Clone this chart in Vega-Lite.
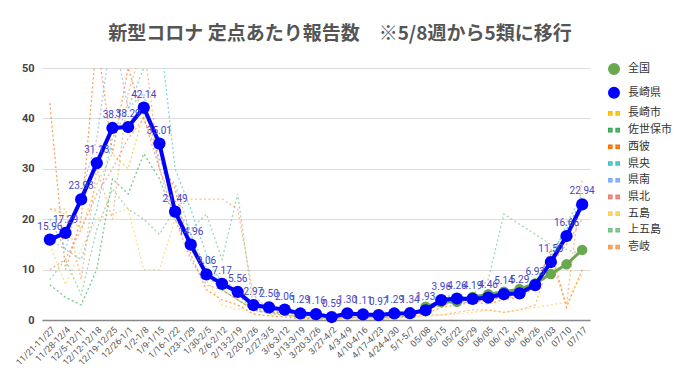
{
  "$schema": "https://vega.github.io/schema/vega-lite/v6.json",
  "width": 548,
  "height": 252,
  "autosize": "none",
  "padding": {"left": 42, "top": 68, "right": 90, "bottom": 62},
  "background": "white",
  "config": {"font": "Noto Sans CJK JP", "view": {"stroke": null}},
  "title": {"text": "新型コロナ 定点あたり報告数　※5/8週から5類に移行", "fontSize": 19, "color": "#555555", "fontWeight": "bold", "offset": 18, "dx": 24, "anchor": "middle"},
  "data": {"values": [
    {"w": "11/21-11/27", "全国": null, "長崎県": 15.96, "lbl": "15.96", "長崎市": 22, "佐世保市": 7, "西彼": 43, "県央": 20, "県南": 16, "県北": 10, "五島": 15, "上五島": 8, "壱岐": 22},
    {"w": "11/28-12/4", "全国": null, "長崎県": 17.29, "lbl": "17.29", "長崎市": 21, "佐世保市": 4.5, "西彼": 10, "県央": 14, "県南": 14, "県北": 12, "五島": 7, "上五島": 12, "壱岐": 22},
    {"w": "12/5-12/11", "全国": null, "長崎県": 23.93, "lbl": "23.93", "長崎市": 18, "佐世保市": 3, "西彼": 20, "県央": 12, "県南": 25, "県北": 18, "五島": 14, "上五島": 5, "壱岐": 8},
    {"w": "12/12-12/18", "全国": null, "長崎県": 31.13, "lbl": "31.13", "長崎市": 27, "佐世保市": 10, "西彼": 56, "県央": 22, "県南": 36, "県北": 25, "五島": 20, "上五島": 18, "壱岐": 30},
    {"w": "12/19-12/25", "全国": null, "長崎県": 38.1, "lbl": "38.1", "長崎市": 33, "佐世保市": 28, "西彼": 33, "県央": 36, "県南": 58, "県北": 30, "五島": 21, "上五島": 26, "壱岐": 20},
    {"w": "12/26-1/1", "全国": null, "長崎県": 38.29, "lbl": "38.29", "長崎市": 30, "佐世保市": 25, "西彼": 50, "県央": 42, "県南": 42, "県北": 36, "五島": 22, "上五島": 22, "壱岐": 45},
    {"w": "1/2-1/8", "全国": null, "長崎県": 42.14, "lbl": "42.14", "長崎市": 41, "佐世保市": 33, "西彼": 40, "県央": 50, "県南": 45, "県北": 40, "五島": 10, "上五島": 20, "壱岐": 55},
    {"w": "1/9-1/15", "全国": null, "長崎県": 35.01, "lbl": "35.01", "長崎市": 34, "佐世保市": 28, "西彼": 32, "県央": 58, "県南": 30, "県北": 30, "五島": 10, "上五島": 17, "壱岐": 30},
    {"w": "1/16-1/22", "全国": null, "長崎県": 21.49, "lbl": "21.49", "長崎市": 22, "佐世保市": 20, "西彼": 26, "県央": 30, "県南": 27, "県北": 20, "五島": 20, "上五島": 22, "壱岐": 22},
    {"w": "1/23-1/29", "全国": null, "長崎県": 14.96, "lbl": "14.96", "長崎市": 14, "佐世保市": 16, "西彼": 13, "県央": 22, "県南": 17, "県北": 12, "五島": 17, "上五島": 18, "壱岐": 24},
    {"w": "1/30-2/5", "全国": null, "長崎県": 9.06, "lbl": "9.06", "長崎市": 9, "佐世保市": 9, "西彼": 6, "県央": 13, "県南": 10, "県北": 7, "五島": 8, "上五島": 21, "壱岐": 24},
    {"w": "2/6-2/12", "全国": null, "長崎県": 7.17, "lbl": "7.17", "長崎市": 6, "佐世保市": 6, "西彼": 4, "県央": 7, "県南": 8, "県北": 6, "五島": 3, "上五島": 12, "壱岐": 24},
    {"w": "2/13-2/19", "全国": null, "長崎県": 5.56, "lbl": "5.56", "長崎市": 4, "佐世保市": 4, "西彼": 3, "県央": 5, "県南": 6, "県北": 4, "五島": 2, "上五島": 25, "壱岐": 22},
    {"w": "2/20-2/26", "全国": null, "長崎県": 2.97, "lbl": "2.97", "長崎市": 2.5, "佐世保市": 2, "西彼": 1.2, "県央": 2, "県南": 3, "県北": 2, "五島": 4, "上五島": 2.5, "壱岐": 5},
    {"w": "2/27-3/5", "全国": null, "長崎県": 2.5, "lbl": "2.50", "長崎市": 2, "佐世保市": 1.3, "西彼": 0.8, "県央": 1.5, "県南": 2, "県北": 1.5, "五島": 1, "上五島": 1.5, "壱岐": 2},
    {"w": "3/6-3/12", "全国": null, "長崎県": 2.06, "lbl": "2.06", "長崎市": 1.6, "佐世保市": 1, "西彼": 0.6, "県央": 1.5, "県南": 2, "県北": 1.5, "五島": 1, "上五島": 1, "壱岐": 1},
    {"w": "3/13-3/19", "全国": null, "長崎県": 1.29, "lbl": "1.29", "長崎市": 1, "佐世保市": 0.8, "西彼": 0.3, "県央": 1, "県南": 1.2, "県北": 1, "五島": 0.5, "上五島": 0.5, "壱岐": 0.5},
    {"w": "3/20-3/26", "全国": null, "長崎県": 1.16, "lbl": "1.16", "長崎市": 0.9, "佐世保市": 0.6, "西彼": 0.3, "県央": 1, "県南": 1.2, "県北": 0.8, "五島": 0.5, "上五島": 0.5, "壱岐": 0},
    {"w": "3/27-4/2", "全国": null, "長崎県": 0.59, "lbl": "0.59", "長崎市": 0.4, "佐世保市": 0.3, "西彼": 0.2, "県央": 0.5, "県南": 0.8, "県北": 0.5, "五島": 0, "上五島": 0.3, "壱岐": 0},
    {"w": "4/3-4/9", "全国": null, "長崎県": 1.3, "lbl": "1.30", "長崎市": 1.1, "佐世保市": 0.6, "西彼": 0.6, "県央": 1, "県南": 1.2, "県北": 1, "五島": 0.5, "上五島": 0.5, "壱岐": 0.5},
    {"w": "4/10-4/16", "全国": null, "長崎県": 1.11, "lbl": "1.11", "長崎市": 0.9, "佐世保市": 0.5, "西彼": 0.5, "県央": 1, "県南": 1, "県北": 1, "五島": 0.5, "上五島": 0.5, "壱岐": 0},
    {"w": "4/17-4/23", "全国": null, "長崎県": 0.97, "lbl": "0.97", "長崎市": 0.8, "佐世保市": 0.5, "西彼": 0.5, "県央": 0.8, "県南": 1, "県北": 0.8, "五島": 0, "上五島": 0.5, "壱岐": 0},
    {"w": "4/24-4/30", "全国": null, "長崎県": 1.29, "lbl": "1.29", "長崎市": 1.1, "佐世保市": 0.7, "西彼": 0.6, "県央": 1, "県南": 1.5, "県北": 1.2, "五島": 0.5, "上五島": 0.5, "壱岐": 0.5},
    {"w": "5/1-5/7", "全国": null, "長崎県": 1.34, "lbl": "1.34", "長崎市": 1.2, "佐世保市": 1, "西彼": 0.8, "県央": 1.2, "県南": 1.5, "県北": 1.2, "五島": 0.5, "上五島": 1, "壱岐": 0.5},
    {"w": "05/08", "全国": 2.63, "長崎県": 1.93, "lbl": "1.93", "長崎市": 1.6, "佐世保市": 2, "西彼": 1.2, "県央": 2.5, "県南": 2, "県北": 2, "五島": 0.8, "上五島": 2, "壱岐": 1},
    {"w": "05/15", "全国": 3.56, "長崎県": 3.96, "lbl": "3.96", "長崎市": 3.5, "佐世保市": 4.5, "西彼": 2.5, "県央": 3.5, "県南": 3.5, "県北": 3, "五島": 1, "上五島": 3, "壱岐": 1},
    {"w": "05/22", "全国": 3.63, "長崎県": 4.26, "lbl": "4.26", "長崎市": 3.8, "佐世保市": 5, "西彼": 3, "県央": 4, "県南": 3.5, "県北": 3.5, "五島": 1.2, "上五島": 4, "壱岐": 1.5},
    {"w": "05/29", "全国": 4.55, "長崎県": 4.19, "lbl": "4.19", "長崎市": 3.9, "佐世保市": 4, "西彼": 3.5, "県央": 4.2, "県南": 3.5, "県北": 3.5, "五島": 1.5, "上五島": 5, "壱岐": 2},
    {"w": "06/05", "全国": 5.11, "長崎県": 4.46, "lbl": "4.46", "長崎市": 4, "佐世保市": 4.8, "西彼": 3.2, "県央": 4.5, "県南": 4, "県北": 4, "五島": 2, "上五島": 8, "壱岐": 2},
    {"w": "06/12", "全国": 5.6, "長崎県": 5.14, "lbl": "5.14", "長崎市": 4.8, "佐世保市": 5.5, "西彼": 4, "県央": 5, "県南": 4.5, "県北": 4.5, "五島": 1.5, "上五島": 21, "壱岐": 1.5},
    {"w": "06/19", "全国": 6.13, "長崎県": 5.29, "lbl": "5.29", "長崎市": 5, "佐世保市": 6, "西彼": 4.5, "県央": 5.5, "県南": 4.5, "県北": 5, "五島": 2, "上五島": 19, "壱岐": 2},
    {"w": "06/26", "全国": 7.24, "長崎県": 6.93, "lbl": "6.93", "長崎市": 6.5, "佐世保市": 7.5, "西彼": 6.5, "県央": 7.5, "県南": 7, "県北": 6.5, "五島": 2.5, "上五島": 17, "壱岐": 3},
    {"w": "07/03", "全国": 9.14, "長崎県": 11.5, "lbl": "11.50", "長崎市": 11, "佐世保市": 13, "西彼": 14, "県央": 12, "県南": 13, "県北": 11, "五島": 3, "上五島": 15, "壱岐": 12},
    {"w": "07/10", "全国": 11.04, "長崎県": 16.66, "lbl": "16.66", "長崎市": 17, "佐世保市": 18, "西彼": 2.5, "県央": 19, "県南": 16, "県北": 15, "五島": 3.5, "上五島": 14, "壱岐": 3},
    {"w": "07/17", "全国": 13.91, "長崎県": 22.94, "lbl": "22.94", "長崎市": 23, "佐世保市": 24, "西彼": 10, "県央": 25, "県南": 22, "県北": 20, "五島": 9, "上五島": 13, "壱岐": 28}
  ]},
  "encoding": {
    "x": {"field": "w", "type": "ordinal",
      "scale": {"type": "point", "padding": 0.5, "domain": ["11/21-11/27","11/28-12/4","12/5-12/11","12/12-12/18","12/19-12/25","12/26-1/1","1/2-1/8","1/9-1/15","1/16-1/22","1/23-1/29","1/30-2/5","2/6-2/12","2/13-2/19","2/20-2/26","2/27-3/5","3/6-3/12","3/13-3/19","3/20-3/26","3/27-4/2","4/3-4/9","4/10-4/16","4/17-4/23","4/24-4/30","5/1-5/7","05/08","05/15","05/22","05/29","06/05","06/12","06/19","06/26","07/03","07/10","07/17"]},
      "axis": {"title": null, "labelAngle": -45, "labelFontSize": 9, "labelColor": "#555555", "ticks": false, "domainColor": "#888888", "domainWidth": 1.5, "labelPadding": 5, "labelFont": "Roboto"}}
  },
  "layer": [
    {
      "transform": [{"fold": ["長崎市","佐世保市","西彼","県央","県南","県北","五島","上五島","壱岐"], "as": ["series", "value"]}],
      "mark": {"type": "line", "strokeDash": [2, 2.5], "strokeWidth": 1.3, "clip": true, "strokeOpacity": 0.65},
      "encoding": {
        "y": {"field": "value", "type": "quantitative", "scale": {"domain": [0, 50], "nice": false},
          "axis": {"title": null, "values": [0, 10, 20, 30, 40, 50], "domain": false, "ticks": false, "gridColor": "#dddddd", "labelFontSize": 11, "labelColor": "#444444", "labelFontWeight": "bold", "labelPadding": 8, "labelFont": "Roboto"}},
        "color": {"field": "series", "type": "nominal",
          "scale": {"domain": ["全国","長崎県","長崎市","佐世保市","西彼","県央","県南","県北","五島","上五島","壱岐"],
                    "range": ["#6aa84f","#0000ff","#fbbc04","#34a853","#ff6d01","#46bdc6","#7baaf7","#f07b72","#fcd04f","#71c287","#ff994d"]},
          "legend": {"orient": "none", "legendX": 566, "legendY": -5, "title": null, "symbolSize": 110, "symbolOpacity": 1, "labelFontSize": 11, "rowPadding": 5.7, "labelOffset": 8, "labelColor": "#333333",
            "encode": {"symbols": {"update": {
              "shape": {"signal": "indexof(['全国','長崎県'], datum.value) >= 0 ? 'circle' : 'M-1,-0.3H-0.4V0.3H-1Z M0.4,-0.3H1V0.3H0.4Z'"},
              "fill": {"scale": "color", "field": "value"},
              "stroke": {"value": "transparent"},
              "opacity": {"value": 1},
              "fillOpacity": {"signal": "indexof(['全国','長崎県'], datum.value) >= 0 ? 1 : 0.7"}}}}}},
        "detail": {"field": "series"}
      }
    },
    {
      "transform": [{"fold": ["全国"], "as": ["series", "value"]}, {"filter": "datum.value != null"}],
      "mark": {"type": "line", "strokeWidth": 3, "point": {"filled": true, "size": 110}},
      "encoding": {
        "y": {"field": "value", "type": "quantitative"},
        "color": {"field": "series", "type": "nominal"}
      }
    },
    {
      "transform": [{"fold": ["長崎県"], "as": ["series", "value"]}],
      "mark": {"type": "line", "strokeWidth": 4, "point": {"filled": true, "size": 150}},
      "encoding": {
        "y": {"field": "value", "type": "quantitative"},
        "color": {"field": "series", "type": "nominal"}
      }
    },
    {
      "mark": {"type": "text", "dy": -13, "fontSize": 10, "color": "#4545c8", "font": "Roboto"},
      "encoding": {
        "y": {"field": "長崎県", "type": "quantitative"},
        "text": {"field": "lbl"}
      }
    }
  ]
}
